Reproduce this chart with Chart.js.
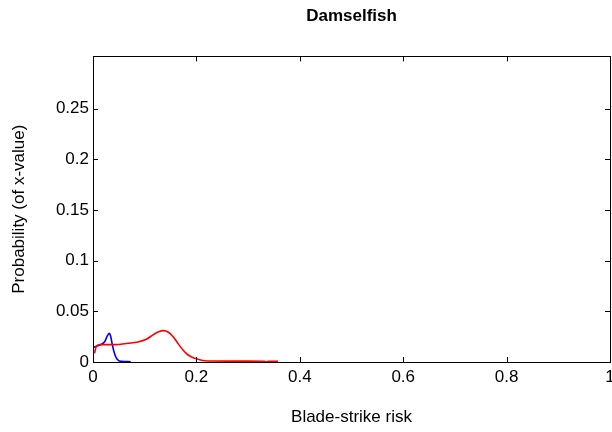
<!DOCTYPE html>
<html>
<head>
<meta charset="utf-8">
<script src="https://cdn.jsdelivr.net/npm/chart.js@4"></script>
<style>
  html, body { margin: 0; padding: 0; background: #fff; }
  #wrap { width: 612px; height: 432px; position: relative; }
</style>
</head>
<body>
<div id="wrap"><canvas id="chart"></canvas></div>
<script>
// data
const redX = [0.003, 0.006, 0.013, 0.042, 0.068, 0.087, 0.103, 0.116, 0.126, 0.137, 0.145, 0.155, 0.164, 0.174, 0.184, 0.197, 0.21, 0.222, 0.26, 0.3, 0.33, 0.335, 0.34, 0.358];
const redY = [0.0086, 0.015, 0.0171, 0.0171, 0.0185, 0.0198, 0.0224, 0.0267, 0.0296, 0.031, 0.0296, 0.025, 0.0185, 0.0119, 0.0069, 0.0036, 0.0017, 0.001, 0.0009, 0.0009, 0.0008, 0.0002, 0.0008, 0.0008];
const blueX = [0.001, 0.013, 0.0226, 0.0277, 0.0316, 0.034, 0.0368, 0.0406, 0.0445, 0.0497, 0.055, 0.073];
const blueY = [0.0145, 0.0168, 0.020, 0.0257, 0.0283, 0.0257, 0.0185, 0.0102, 0.0046, 0.0013, 0.0007, 0.0003];
const xTicks = [0, 0.2, 0.4, 0.6, 0.8, 1];
const yTicks = [0, 0.05, 0.1, 0.15, 0.2, 0.25];

const font = "Liberation Sans, Arial, sans-serif";

function pts(xs, ys) {
  return xs.map((x, i) => ({ x: x, y: ys[i] }));
}

// MATLAB style box with inward ticks
const boxPlugin = {
  id: 'box',
  afterDraw(chart) {
    const { ctx, chartArea: a, scales } = chart;
    ctx.save();
    ctx.strokeStyle = '#000';
    ctx.lineWidth = 1;
    ctx.beginPath();
    xTicks.forEach(v => {
      const px = Math.round(scales.x.getPixelForValue(v)) + 0.5;
      ctx.moveTo(px, a.bottom); ctx.lineTo(px, a.bottom - 5);
      ctx.moveTo(px, a.top); ctx.lineTo(px, a.top + 5);
    });
    yTicks.forEach(v => {
      const py = Math.round(scales.y.getPixelForValue(v)) + 0.5;
      ctx.moveTo(a.left, py); ctx.lineTo(a.left + 5, py);
      ctx.moveTo(a.right, py); ctx.lineTo(a.right - 5, py);
    });
    ctx.stroke();
    ctx.strokeRect(Math.round(a.left) + 0.5, Math.round(a.top) + 0.5, Math.round(a.right - a.left), Math.round(a.bottom - a.top));
    ctx.restore();
  }
};

new Chart(document.getElementById('chart'), {
  type: 'line',
  data: {
    datasets: [
      {
        data: pts(redX, redY),
        borderColor: '#ff0000',
        borderWidth: 1.6,
        pointRadius: 0,
        cubicInterpolationMode: 'monotone',
      },
      {
        data: pts(blueX, blueY),
        borderColor: '#0000ff',
        borderWidth: 1.6,
        pointRadius: 0,
        cubicInterpolationMode: 'monotone',
      },
    ],
  },
  options: {
    responsive: true,
    maintainAspectRatio: false,
    animation: false,
    layout: { padding: { left: 0, right: 2, top: 0, bottom: 0 } },
    plugins: {
      legend: { display: false },
      tooltip: { enabled: false },
      title: {
        display: true,
        fullSize: false,
        text: 'Damselfish',
        color: '#000',
        font: { family: font, size: 17, weight: 'bold' },
        padding: { top: 6, bottom: 30 },
      },
    },
    scales: {
      x: {
        type: 'linear',
        min: 0,
        max: 1,
        afterBuildTicks: s => { s.ticks = xTicks.map(v => ({ value: v })); },
        afterFit: s => { s.height = 70; s.paddingLeft = 0; s.paddingRight = 0; },
        grid: { display: false, drawTicks: false },
        border: { display: false },
        ticks: {
          color: '#000',
          font: { family: font, size: 17 },
          padding: 5,
          maxRotation: 0,
          callback: v => String(v),
        },
        title: {
          display: true,
          text: 'Blade-strike risk',
          color: '#000',
          font: { family: font, size: 17 },
          padding: { top: 18 },
        },
      },
      y: {
        type: 'linear',
        min: 0,
        max: 0.3015,
        afterBuildTicks: s => { s.ticks = yTicks.map(v => ({ value: v })); },
        afterFit: s => { s.width = 93; s.paddingTop = 0; s.paddingBottom = 0; },
        grid: { display: false, drawTicks: false },
        border: { display: false },
        ticks: {
          color: '#000',
          font: { family: font, size: 17 },
          padding: 4,
          callback: v => String(v),
        },
        title: {
          display: true,
          text: 'Probability (of x-value)',
          color: '#000',
          font: { family: font, size: 17 },
          padding: { top: 9, bottom: 4 },
        },
      },
    },
  },
  plugins: [boxPlugin],
});
</script>
</body>
</html>
